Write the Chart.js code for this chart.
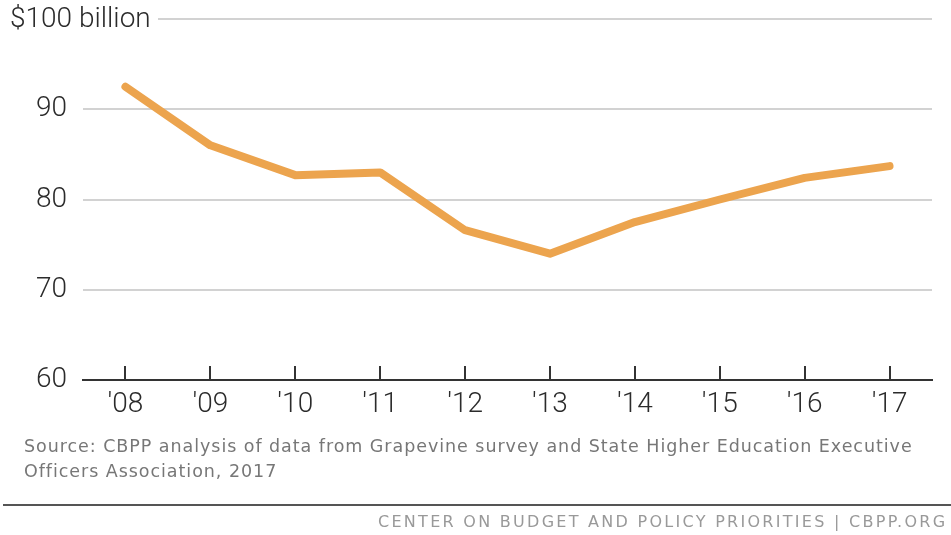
<!DOCTYPE html>
<html>
<head>
<meta charset="utf-8">
<script src="https://cdn.jsdelivr.net/npm/chart.js@4.4.1/dist/chart.umd.min.js"></script>
<style>
  html, body { margin: 0; padding: 0; background: #ffffff; }
  #wrap { width: 951px; height: 535px; position: relative; }
</style>
</head>
<body>
<div id="wrap"><canvas id="c" width="951" height="535"></canvas></div>
<script>
const years = ["'08", "'09", "'10", "'11", "'12", "'13", "'14", "'15", "'16", "'17"];
const funding = [92.5, 86.0, 82.7, 83.0, 76.6, 74.0, 77.5, 80.0, 82.4, 83.7];
const yMin = 60;
const yMax = 100;
const yStep = 10;
const topLabel = "$100 billion";
const sourceLines = [
  "Source: CBPP analysis of data from Grapevine survey and State Higher Education Executive",
  "Officers Association, 2017"
];
const footerText = "CENTER ON BUDGET AND POLICY PRIORITIES | CBPP.ORG";

const axisFont = "Roboto, 'Liberation Sans', sans-serif";

function spacingFor(ctx, text, targetWidth) {
  ctx.letterSpacing = '0px';
  const w = ctx.measureText(text).width;
  return (targetWidth - w) / Math.max(1, text.length - 1);
}

const decor = {
  id: 'decor',
  beforeDatasetsDraw(chart) {
    const ctx = chart.ctx;
    const y = chart.scales.y;
    const area = chart.chartArea;
    const py = y.getPixelForValue(yMax);
    ctx.save();
    ctx.strokeStyle = '#d2d2d2';
    ctx.lineWidth = 2;
    ctx.beginPath();
    ctx.moveTo(158, py);
    ctx.lineTo(area.right, py);
    ctx.stroke();
    ctx.fillStyle = '#2b2b2b';
    ctx.font = "300 28px " + axisFont;
    ctx.textAlign = 'left';
    ctx.textBaseline = 'middle';
    ctx.fillText(topLabel, 10, py + 1);
    ctx.restore();
  },
  afterDatasetsDraw(chart) {
    const ctx = chart.ctx;
    const x = chart.scales.x;
    const area = chart.chartArea;
    ctx.save();
    ctx.strokeStyle = '#333333';
    ctx.lineWidth = 2;
    for (let i = 0; i < years.length; i++) {
      const px = Math.round(x.getPixelForTick(i));
      ctx.beginPath();
      ctx.moveTo(px, area.bottom);
      ctx.lineTo(px, area.bottom - 14);
      ctx.stroke();
    }
    // source
    ctx.fillStyle = '#777777';
    ctx.font = "17.5px 'DejaVu Sans', sans-serif";
    ctx.textBaseline = 'middle';
    ctx.textAlign = 'left';
    const sp = spacingFor(ctx, sourceLines[0], 888);
    ctx.letterSpacing = sp.toFixed(2) + 'px';
    ctx.fillText(sourceLines[0], 24, 447);
    ctx.fillText(sourceLines[1], 24, 472);
    ctx.letterSpacing = '0px';
    // separator
    ctx.strokeStyle = '#555555';
    ctx.lineWidth = 2;
    ctx.beginPath();
    ctx.moveTo(3, 505);
    ctx.lineTo(951, 505);
    ctx.stroke();
    // footer
    ctx.fillStyle = '#999999';
    ctx.font = "16px 'DejaVu Sans', sans-serif";
    const sp2 = spacingFor(ctx, footerText, 567);
    ctx.letterSpacing = sp2.toFixed(2) + 'px';
    ctx.fillText(footerText, 945 - 567, 523);
    ctx.letterSpacing = '0px';
    ctx.restore();
  }
};

new Chart(document.getElementById('c'), {
  type: 'line',
  data: {
    labels: years,
    datasets: [{
      data: funding,
      borderColor: '#eca44e',
      borderWidth: 8,
      pointRadius: 0,
      tension: 0,
      borderCapStyle: 'round',
      borderJoinStyle: 'round',
      fill: false
    }]
  },
  options: {
    responsive: false,
    animation: false,
    devicePixelRatio: 1,
    layout: { padding: { left: 0, right: 19, top: 19, bottom: 0 } },
    plugins: { legend: { display: false }, tooltip: { enabled: false } },
    scales: {
      x: {
        offset: true,
        grid: { display: false, drawTicks: false },
        border: { display: true, color: '#333333', width: 2 },
        ticks: {
          color: '#2b2b2b',
          font: { family: axisFont, size: 28, weight: 300 },
          padding: 8,
          maxRotation: 0,
          autoSkip: false
        },
        afterFit(scale) { scale.height = 155; scale.paddingLeft = 0; scale.paddingRight = 0; }
      },
      y: {
        min: yMin,
        max: yMax,
        grid: {
          drawTicks: false,
          lineWidth: 2,
          color(ctx) {
            const v = ctx.tick && ctx.tick.value;
            return (v === yMax || v === yMin) ? 'rgba(0,0,0,0)' : '#d2d2d2';
          }
        },
        border: { display: false },
        ticks: {
          stepSize: yStep,
          color: '#2b2b2b',
          font: { family: axisFont, size: 28, weight: 300 },
          padding: 16,
          callback(v) { return v === yMax ? '' : v; }
        },
        afterFit(scale) { scale.width = 83; scale.paddingTop = 0; scale.paddingBottom = 0; }
      }
    }
  },
  plugins: [decor]
});
</script>
</body>
</html>
